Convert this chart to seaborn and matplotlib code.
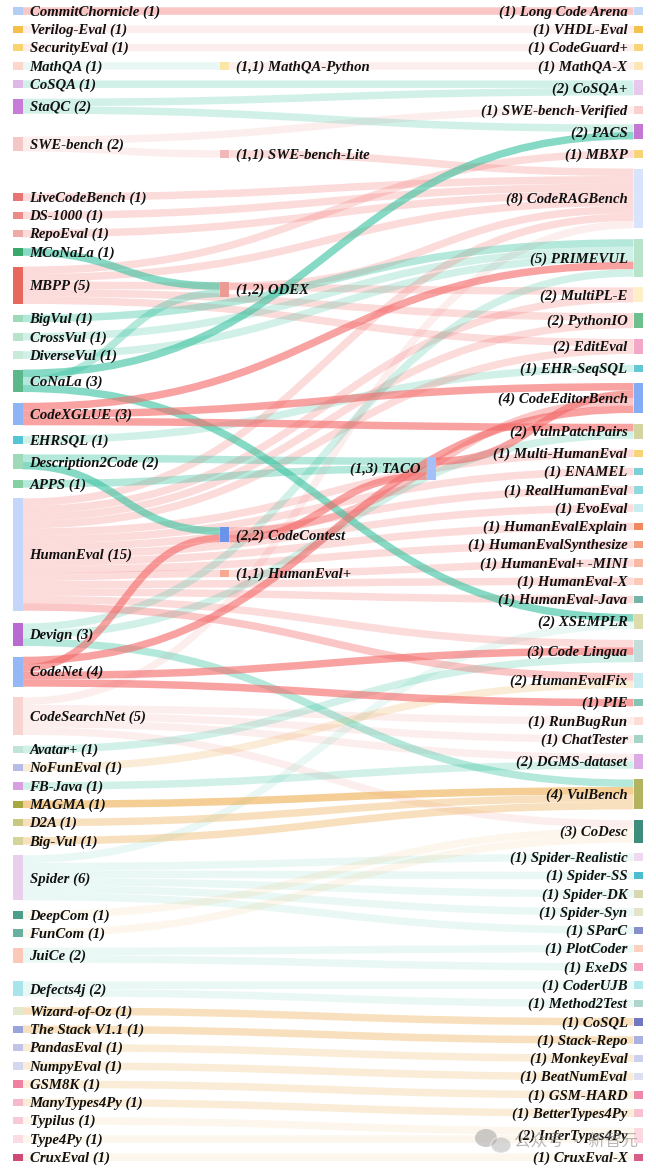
import matplotlib
matplotlib.use("Agg")
import matplotlib.pyplot as plt
from matplotlib.path import Path
from matplotlib.patches import PathPatch, Rectangle, Ellipse
import seaborn as sns
import pandas as pd
import numpy as np

# ---------------------------------------------------------------- data
LEFT_NODES = ["CommitChornicle", "Verilog-Eval", "SecurityEval", "MathQA", "CoSQA", "StaQC",
              "SWE-bench", "LiveCodeBench", "DS-1000", "RepoEval", "MCoNaLa", "MBPP", "BigVul",
              "CrossVul", "DiverseVul", "CoNaLa", "CodeXGLUE", "EHRSQL", "Description2Code", "APPS",
              "HumanEval", "Devign", "CodeNet", "CodeSearchNet", "Avatar+", "NoFunEval", "FB-Java",
              "MAGMA", "D2A", "Big-Vul", "Spider", "DeepCom", "FunCom", "JuiCe", "Defects4j",
              "Wizard-of-Oz", "The Stack V1.1", "PandasEval", "NumpyEval", "GSM8K", "ManyTypes4Py",
              "Typilus", "Type4Py", "CruxEval"]

MID_NODES = ["MathQA-Python", "SWE-bench-Lite", "ODEX", "CodeContest", "HumanEval+"]

DEEP_NODES = ["TACO"]

RIGHT_NODES = ["Long Code Arena", "VHDL-Eval", "CodeGuard+", "MathQA-X", "CoSQA+",
               "SWE-bench-Verified", "PACS", "MBXP", "CodeRAGBench", "PRIMEVUL", "MultiPL-E",
               "PythonIO", "EditEval", "EHR-SeqSQL", "CodeEditorBench", "VulnPatchPairs",
               "Multi-HumanEval", "ENAMEL", "RealHumanEval", "EvoEval", "HumanEvalExplain",
               "HumanEvalSynthesize", "HumanEval+ -MINI", "HumanEval-X", "HumanEval-Java",
               "XSEMPLR", "Code Lingua", "HumanEvalFix", "PIE", "RunBugRun", "ChatTester",
               "DGMS-dataset", "VulBench", "CoDesc", "Spider-Realistic", "Spider-SS", "Spider-DK",
               "Spider-Syn", "SParC", "PlotCoder", "ExeDS", "CoderUJB", "Method2Test", "CoSQL",
               "Stack-Repo", "MonkeyEval", "BeatNumEval", "GSM-HARD", "BetterTypes4Py",
               "InferTypes4Py", "CruxEval-X"]

# (source, target, link group)  group = family letter + strength level
LINKS = [
    ("CommitChornicle", "Long Code Arena", "R3"),
    ("Verilog-Eval", "VHDL-Eval", "R1"),
    ("SecurityEval", "CodeGuard+", "R1"),
    ("MathQA", "MathQA-Python", "T1"),
    ("MathQA-Python", "MathQA-X", "R1"),
    ("CoSQA", "CoSQA+", "T2"),
    ("StaQC", "CoSQA+", "T2"),
    ("StaQC", "PACS", "T2"),
    ("SWE-bench", "SWE-bench-Verified", "R1"),
    ("SWE-bench", "SWE-bench-Lite", "R1"),
    ("SWE-bench-Lite", "CodeRAGBench", "R2"),
    ("LiveCodeBench", "CodeRAGBench", "R2"),
    ("DS-1000", "CodeRAGBench", "R2"),
    ("RepoEval", "CodeRAGBench", "R2"),
    ("MCoNaLa", "ODEX", "T4"),
    ("ODEX", "CodeRAGBench", "R2"),
    ("MBPP", "MBXP", "R2"),
    ("MBPP", "CodeRAGBench", "R2"),
    ("MBPP", "MultiPL-E", "R2"),
    ("MBPP", "PythonIO", "R2"),
    ("MBPP", "EditEval", "R2"),
    ("BigVul", "PRIMEVUL", "T3"),
    ("CrossVul", "PRIMEVUL", "T2"),
    ("DiverseVul", "PRIMEVUL", "T2"),
    ("CoNaLa", "PACS", "T4"),
    ("CoNaLa", "ODEX", "T3"),
    ("CoNaLa", "XSEMPLR", "T4"),
    ("CodeXGLUE", "PRIMEVUL", "R4"),
    ("CodeXGLUE", "CodeEditorBench", "R4"),
    ("CodeXGLUE", "VulnPatchPairs", "R4"),
    ("EHRSQL", "EHR-SeqSQL", "T2"),
    ("Description2Code", "TACO", "T3"),
    ("Description2Code", "CodeContest", "T4"),
    ("APPS", "TACO", "T3"),
    ("HumanEval", "CodeRAGBench", "R2"),
    ("HumanEval", "MultiPL-E", "R2"),
    ("HumanEval", "PythonIO", "R2"),
    ("HumanEval", "EditEval", "R2"),
    ("HumanEval", "Multi-HumanEval", "R2"),
    ("HumanEval", "ENAMEL", "R2"),
    ("HumanEval", "RealHumanEval", "R2"),
    ("HumanEval", "EvoEval", "R2"),
    ("HumanEval", "HumanEvalExplain", "R2"),
    ("HumanEval", "HumanEvalSynthesize", "R2"),
    ("HumanEval", "HumanEval+", "R2"),
    ("HumanEval", "HumanEval-X", "R2"),
    ("HumanEval", "HumanEval-Java", "R2"),
    ("HumanEval", "Code Lingua", "R2"),
    ("HumanEval", "HumanEvalFix", "R3"),
    ("HumanEval+", "HumanEval+ -MINI", "R2"),
    ("Devign", "PRIMEVUL", "T2"),
    ("Devign", "VulnPatchPairs", "T2"),
    ("Devign", "VulBench", "T3"),
    ("CodeNet", "CodeContest", "R4"),
    ("CodeNet", "CodeEditorBench", "R4"),
    ("CodeNet", "Code Lingua", "R4"),
    ("CodeNet", "PIE", "R4"),
    ("CodeContest", "TACO", "R4"),
    ("CodeContest", "CodeEditorBench", "R3"),
    ("TACO", "CodeEditorBench", "R4"),
    ("CodeSearchNet", "CodeRAGBench", "R1"),
    ("CodeSearchNet", "RunBugRun", "R1"),
    ("CodeSearchNet", "ChatTester", "R1"),
    ("CodeSearchNet", "DGMS-dataset", "R1"),
    ("CodeSearchNet", "CoDesc", "R1"),
    ("Avatar+", "Code Lingua", "T2"),
    ("NoFunEval", "HumanEvalFix", "O2"),
    ("FB-Java", "DGMS-dataset", "T2"),
    ("MAGMA", "VulBench", "O4"),
    ("D2A", "VulBench", "O3"),
    ("Big-Vul", "VulBench", "O3"),
    ("Spider", "XSEMPLR", "T1"),
    ("Spider", "Spider-Realistic", "T1"),
    ("Spider", "Spider-SS", "T1"),
    ("Spider", "Spider-DK", "T1"),
    ("Spider", "Spider-Syn", "T1"),
    ("Spider", "SParC", "T1"),
    ("DeepCom", "CoDesc", "O1"),
    ("FunCom", "CoDesc", "O1"),
    ("JuiCe", "PlotCoder", "T1"),
    ("JuiCe", "ExeDS", "T1"),
    ("Defects4j", "CoderUJB", "T1"),
    ("Defects4j", "Method2Test", "T1"),
    ("Wizard-of-Oz", "CoSQL", "O3"),
    ("The Stack V1.1", "Stack-Repo", "O3"),
    ("PandasEval", "MonkeyEval", "O2"),
    ("NumpyEval", "BeatNumEval", "O2"),
    ("GSM8K", "GSM-HARD", "O2"),
    ("ManyTypes4Py", "BetterTypes4Py", "O2"),
    ("Typilus", "InferTypes4Py", "O1"),
    ("Type4Py", "InferTypes4Py", "O1"),
    ("CruxEval", "CruxEval-X", "O1"),
]

# ---------------------------------------------------------------- styles
NODE_COLORS = {
    "CommitChornicle": "#b3cdf5", "Verilog-Eval": "#f5c04a", "SecurityEval": "#f9d36b",
    "MathQA": "#fcd8cc", "CoSQA": "#e0b8e8", "StaQC": "#c77dd8", "SWE-bench": "#f5c6c6",
    "LiveCodeBench": "#e87474", "DS-1000": "#ec8a86", "RepoEval": "#efaaa5", "MCoNaLa": "#3aa86a",
    "MBPP": "#e8685e", "BigVul": "#9ed9b8", "CrossVul": "#b8e4cc", "DiverseVul": "#c8ead8",
    "CoNaLa": "#5cb88a", "CodeXGLUE": "#8db4f5", "EHRSQL": "#55c4d4", "Description2Code": "#9ed9b8",
    "APPS": "#86cfa2", "HumanEval": "#c4d6fa", "Devign": "#b86ad0", "CodeNet": "#94b8f5",
    "CodeSearchNet": "#f8d4d0", "Avatar+": "#c0e4d8", "NoFunEval": "#b6bce8", "FB-Java": "#d8a0e0",
    "MAGMA": "#a8a840", "D2A": "#c8c880", "Big-Vul": "#d4d498", "Spider": "#e8d0ec",
    "DeepCom": "#4a9e8a", "FunCom": "#6ab0a0", "JuiCe": "#fcc8b8", "Defects4j": "#a8e4ea",
    "Wizard-of-Oz": "#e4e8cc", "The Stack V1.1": "#9aa4dc", "PandasEval": "#c0c4e8",
    "NumpyEval": "#d4d8ee", "GSM8K": "#f080a0", "ManyTypes4Py": "#f8b8cc", "Typilus": "#f8cad8",
    "Type4Py": "#fcdce4", "CruxEval": "#d04a78",
    "MathQA-Python": "#fbe6a8", "SWE-bench-Lite": "#f0b8b8", "ODEX": "#ec9a94",
    "CodeContest": "#6a94ec", "HumanEval+": "#f8a890", "TACO": "#a4c0f8",
    "Long Code Arena": "#c4d8f8", "VHDL-Eval": "#f4c24a", "CodeGuard+": "#f8d478",
    "MathQA-X": "#fbe6b4", "CoSQA+": "#e8c8ec", "SWE-bench-Verified": "#f8d0d0", "PACS": "#c478d4",
    "MBXP": "#f8d478", "CodeRAGBench": "#d8e4fc", "PRIMEVUL": "#b8e4cc", "MultiPL-E": "#fdf0c8",
    "PythonIO": "#6cc08e", "EditEval": "#f4a8c8", "EHR-SeqSQL": "#64c8d4",
    "CodeEditorBench": "#84acf5", "VulnPatchPairs": "#d4d4a0", "Multi-HumanEval": "#f8d478",
    "ENAMEL": "#7ccfd8", "RealHumanEval": "#90d8e0", "EvoEval": "#c8ecf0",
    "HumanEvalExplain": "#f08860", "HumanEvalSynthesize": "#f4a080", "HumanEval+ -MINI": "#f8b8a4",
    "HumanEval-X": "#fcc8b8", "HumanEval-Java": "#74b4a8", "XSEMPLR": "#dcdcac",
    "Code Lingua": "#c4dcdc", "HumanEvalFix": "#c8ecf2", "PIE": "#84c4b4", "RunBugRun": "#fcdcd4",
    "ChatTester": "#a4d4c8", "DGMS-dataset": "#dcaae4", "VulBench": "#b4b460", "CoDesc": "#3e8c7c",
    "Spider-Realistic": "#f0d8f0", "Spider-SS": "#4cbcd0", "Spider-DK": "#d8d8b0",
    "Spider-Syn": "#e4e4c8", "SParC": "#8890cc", "PlotCoder": "#fcd0c0", "ExeDS": "#f4a0b8",
    "CoderUJB": "#b0e8ec", "Method2Test": "#b0d4cc", "CoSQL": "#7078c4", "Stack-Repo": "#aab0e0",
    "MonkeyEval": "#ccd0ee", "BeatNumEval": "#dcdff2", "GSM-HARD": "#f088a8",
    "BetterTypes4Py": "#f8c0d0", "InferTypes4Py": "#fcd8e0", "CruxEval-X": "#d85c88",
}

FAMILY_COLORS = {"R": "#f46a6a", "T": "#3cc4a2", "O": "#eeb055"}
LEVEL_ALPHA = {"1": 0.11, "2": 0.24, "3": 0.38, "4": 0.62}

# leftover vertical room of the first column goes to these spots (relative weights)
LEFT_SPREAD = {"SWE-bench": 12, "LiveCodeBench": 31, "Devign": 2, "Defects4j": 8}
IN_WEIGHT = 0.75   # pull of incoming vs outgoing links when placing inner nodes

W, H, DPI = 656, 1171, 100
TOP, BOTTOM = 7.3, 1161.0
MARGIN_X = 13.0
NODE_W = 9.5
PAD = 10.8
FONT_SIZE = 10.6


def main():
    sns.set_theme(style="white")
    plt.rcParams["font.family"] = ["Liberation Serif", "DejaVu Serif"]

    links = pd.DataFrame(LINKS, columns=["source", "target", "group"])
    columns = [LEFT_NODES, MID_NODES, DEEP_NODES, RIGHT_NODES]
    nodes = [n for c in columns for n in c]
    col_of = {n: i for i, c in enumerate(columns) for n in c}
    out_deg = links.groupby("source").size()
    in_deg = links.groupby("target").size()
    value = {n: max(out_deg.get(n, 0), in_deg.get(n, 0)) for n in nodes}

    ky = min((BOTTOM - TOP - (len(c) - 1) * PAD) / sum(value[n] for n in c) for c in columns)
    step = (W - 2 * MARGIN_X - NODE_W) / 3
    x0 = {n: MARGIN_X + col_of[n] * step for n in nodes}

    y0 = {}
    for names, spread in ((LEFT_NODES, LEFT_SPREAD), (RIGHT_NODES, {})):
        spare = (BOTTOM - TOP) - sum(value[n] for n in names) * ky - (len(names) - 1) * PAD
        wsum = sum(spread.values()) or 1
        y = TOP
        for n in names:
            y += spare * spread.get(n, 0) / wsum
            y0[n] = y
            y = y + value[n] * ky + PAD

    inner = MID_NODES + DEEP_NODES
    center = {n: y0[n] + value[n] * ky / 2 for n in y0}
    for n in inner:
        center[n] = (TOP + BOTTOM) / 2
    for n in inner:
        nb = list(links.loc[links.source == n, "target"]) + list(links.loc[links.target == n, "source"])
        known = [center[m] for m in nb if m in y0]
        if known:
            center[n] = float(np.mean(known))

    def attach():
        sy, ty = {}, {}
        for n in nodes:
            top = center[n] - value[n] * ky / 2
            outs = links[links.source == n].copy()
            outs["k"] = outs.target.map(center)
            for off, idx in enumerate(outs.sort_values("k").index):
                sy[idx] = top + (off + 0.5) * ky
            ins = links[links.target == n].copy()
            ins["k"] = ins.source.map(center)
            for off, idx in enumerate(ins.sort_values("k").index):
                ty[idx] = top + (off + 0.5) * ky
        return sy, ty

    for _ in range(15):
        sy, ty = attach()
        for n in inner:
            ins = [sy[i] for i in links.index[links.target == n]]
            outs = [ty[i] for i in links.index[links.source == n]]
            center[n] = IN_WEIGHT * float(np.mean(ins)) + (1 - IN_WEIGHT) * float(np.mean(outs))
    sy, ty = attach()

    fig = plt.figure(figsize=(W / DPI, H / DPI), dpi=DPI)
    ax = fig.add_axes([0, 0, 1, 1])
    ax.set_xlim(0, W)
    ax.set_ylim(H, 0)
    ax.axis("off")

    lw = ky * 72 / DPI
    order = links.assign(a=links.group.str[1].map(LEVEL_ALPHA)).sort_values("a", kind="stable")
    for idx, row in order.iterrows():
        xa = x0[row.source] + NODE_W
        xb = x0[row.target]
        xm = (xa + xb) / 2
        path = Path([(xa, sy[idx]), (xm, sy[idx]), (xm, ty[idx]), (xb, ty[idx])],
                    [Path.MOVETO, Path.CURVE4, Path.CURVE4, Path.CURVE4])
        color = matplotlib.colors.to_rgba(FAMILY_COLORS[row.group[0]], row.a)
        ax.add_patch(PathPatch(path, facecolor="none", edgecolor=color, lw=lw, capstyle="butt"))

    for n in nodes:
        top = center[n] - value[n] * ky / 2
        ax.add_patch(Rectangle((x0[n], top), NODE_W, value[n] * ky,
                               facecolor=NODE_COLORS[n], edgecolor="none"))
        if col_of[n] == 0:
            label = f"{n} ({value[n]})"
        elif col_of[n] == 3:
            label = f"({in_deg.get(n, 0)}) {n}"
        else:
            label = f"({out_deg.get(n, 0)},{in_deg.get(n, 0)}) {n}"
        if x0[n] < W / 2:
            ax.text(x0[n] + NODE_W + 7, center[n] + 1, label, ha="left", va="center",
                    fontsize=FONT_SIZE, fontweight="bold", fontstyle="italic", color="#111111")
        else:
            ax.text(x0[n] - 6, center[n] + 1, label, ha="right", va="center",
                    fontsize=FONT_SIZE, fontweight="bold", fontstyle="italic", color="#111111")

    # watermark
    ax.add_patch(Ellipse((486, 1138), 22, 18, facecolor="#9a9a9a", alpha=0.5, edgecolor="none"))
    ax.add_patch(Ellipse((501, 1145), 20, 16, facecolor="#b0b0b0", alpha=0.5, edgecolor="white", lw=1))
    ax.text(576, 1141, "公众号 · 新智元", ha="center", va="center", fontsize=12,
            color="#8a8a8a", alpha=0.6, family=["Noto Sans CJK SC", "DejaVu Sans"])

    fig.savefig("out.png", dpi=DPI)


if __name__ == "__main__":
    main()
